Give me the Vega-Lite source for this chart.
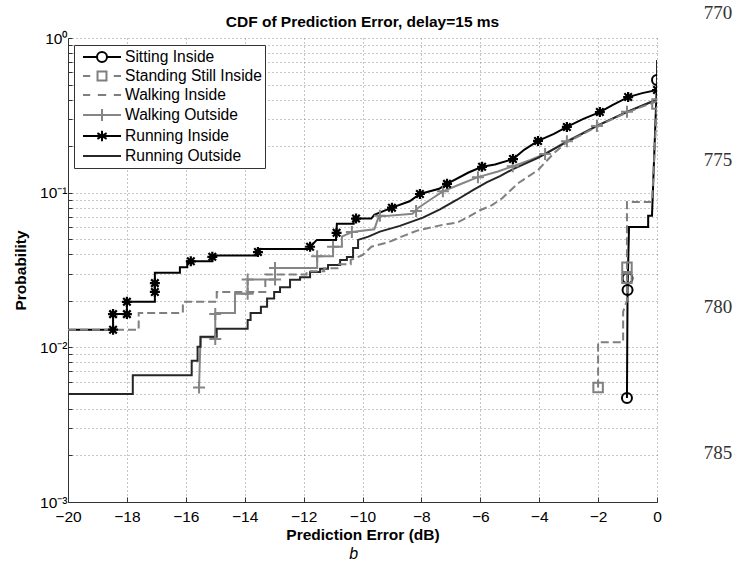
{
  "$schema": "https://vega.github.io/schema/vega-lite/v6.json",
  "width": 589,
  "height": 464,
  "autosize": "none",
  "padding": {"left": 68, "top": 38, "right": 88, "bottom": 59},
  "background": "white",
  "title": {"text": "CDF of Prediction Error, delay=15 ms", "fontSize": 15.5, "fontWeight": "bold", "font": "Liberation Sans", "color": "black", "offset": 9, "dy": 35, "anchor": "middle", "frame": "group"},
  "config": {
    "view": {"stroke": null},
    "font": "Liberation Sans",
    "axis": {"gridDash": [1, 3], "gridColor": "#8c8c8c", "gridOpacity": 1, "gridWidth": 1, "domainColor": "#333333", "tickColor": "#333333", "labelColor": "black", "labelFontSize": 15.5, "titleFontSize": 15.5, "titleFontWeight": "bold", "titleColor": "black", "labelFont": "Liberation Sans", "titleFont": "Liberation Sans", "labelOverlap": false, "labelFlush": false},
    "legend": {"orient": "none", "legendX": 6, "legendY": 7, "symbolSize": 256, "symbolStrokeWidth": 2, "symbolFillColor": "transparent",
               "labelFontSize": 15.6, "labelFont": "Liberation Sans", "labelColor": "black", "labelOffset": 30,
               "rowPadding": 1, "padding": 3, "strokeColor": "#333333", "fillColor": "white"}
  },
  "datasets": {
    "curves": [
      {"s": "Sitting Inside", "x": -1.02, "p": 0.0047},
      {"s": "Sitting Inside", "x": -1.0, "p": 0.0235},
      {"s": "Sitting Inside", "x": -0.95, "p": 0.06},
      {"s": "Sitting Inside", "x": -0.3, "p": 0.06},
      {"s": "Sitting Inside", "x": -0.3, "p": 0.071},
      {"s": "Sitting Inside", "x": -0.17, "p": 0.071},
      {"s": "Sitting Inside", "x": 0, "p": 0.535},

      {"s": "Standing Still Inside", "x": -2.0, "p": 0.0055},
      {"s": "Standing Still Inside", "x": -2.0, "p": 0.0108},
      {"s": "Standing Still Inside", "x": -1.15, "p": 0.0108},
      {"s": "Standing Still Inside", "x": -1.15, "p": 0.017},
      {"s": "Standing Still Inside", "x": -1.02, "p": 0.02},
      {"s": "Standing Still Inside", "x": -1.02, "p": 0.087},
      {"s": "Standing Still Inside", "x": -0.17, "p": 0.087},
      {"s": "Standing Still Inside", "x": 0, "p": 0.375},

      {"s": "Walking Inside", "x": -20, "p": 0.013},
      {"s": "Walking Inside", "x": -17.6, "p": 0.013},
      {"s": "Walking Inside", "x": -17.6, "p": 0.0167},
      {"s": "Walking Inside", "x": -16.1, "p": 0.0167},
      {"s": "Walking Inside", "x": -16.1, "p": 0.0197},
      {"s": "Walking Inside", "x": -14.95, "p": 0.0197},
      {"s": "Walking Inside", "x": -14.95, "p": 0.0228},
      {"s": "Walking Inside", "x": -13.3, "p": 0.0228},
      {"s": "Walking Inside", "x": -13.3, "p": 0.0296},
      {"s": "Walking Inside", "x": -11.9, "p": 0.0296},
      {"s": "Walking Inside", "x": -11.9, "p": 0.031},
      {"s": "Walking Inside", "x": -11.3, "p": 0.031},
      {"s": "Walking Inside", "x": -11.3, "p": 0.0325},
      {"s": "Walking Inside", "x": -10.8, "p": 0.0325},
      {"s": "Walking Inside", "x": -10.8, "p": 0.0345},
      {"s": "Walking Inside", "x": -10.4, "p": 0.0345},
      {"s": "Walking Inside", "x": -10.4, "p": 0.0367},
      {"s": "Walking Inside", "x": -10.0, "p": 0.0395},
      {"s": "Walking Inside", "x": -9.7, "p": 0.0447},
      {"s": "Walking Inside", "x": -9.1, "p": 0.048},
      {"s": "Walking Inside", "x": -8.56, "p": 0.053},
      {"s": "Walking Inside", "x": -8.12, "p": 0.057},
      {"s": "Walking Inside", "x": -7.27, "p": 0.062},
      {"s": "Walking Inside", "x": -6.79, "p": 0.064},
      {"s": "Walking Inside", "x": -6.45, "p": 0.069},
      {"s": "Walking Inside", "x": -6.01, "p": 0.077},
      {"s": "Walking Inside", "x": -5.6, "p": 0.083},
      {"s": "Walking Inside", "x": -5.26, "p": 0.092},
      {"s": "Walking Inside", "x": -4.72, "p": 0.115},
      {"s": "Walking Inside", "x": -4.04, "p": 0.14},
      {"s": "Walking Inside", "x": -3.5, "p": 0.18},
      {"s": "Walking Inside", "x": -3.06, "p": 0.212},
      {"s": "Walking Inside", "x": -2.5, "p": 0.24},
      {"s": "Walking Inside", "x": -2.04, "p": 0.268},
      {"s": "Walking Inside", "x": -1.5, "p": 0.3},
      {"s": "Walking Inside", "x": -1.02, "p": 0.33},
      {"s": "Walking Inside", "x": -0.5, "p": 0.36},
      {"s": "Walking Inside", "x": 0, "p": 0.39},

      {"s": "Walking Outside", "x": -15.55, "p": 0.0055},
      {"s": "Walking Outside", "x": -15.5, "p": 0.0116},
      {"s": "Walking Outside", "x": -15.0, "p": 0.0116},
      {"s": "Walking Outside", "x": -15.0, "p": 0.0167},
      {"s": "Walking Outside", "x": -14.33, "p": 0.0167},
      {"s": "Walking Outside", "x": -14.33, "p": 0.0222},
      {"s": "Walking Outside", "x": -13.9, "p": 0.0222},
      {"s": "Walking Outside", "x": -13.9, "p": 0.0275},
      {"s": "Walking Outside", "x": -12.97, "p": 0.0275},
      {"s": "Walking Outside", "x": -12.97, "p": 0.0326},
      {"s": "Walking Outside", "x": -11.54, "p": 0.0326},
      {"s": "Walking Outside", "x": -11.54, "p": 0.0388},
      {"s": "Walking Outside", "x": -11.0, "p": 0.0388},
      {"s": "Walking Outside", "x": -11.0, "p": 0.0447},
      {"s": "Walking Outside", "x": -10.7, "p": 0.0447},
      {"s": "Walking Outside", "x": -10.7, "p": 0.052},
      {"s": "Walking Outside", "x": -10.36, "p": 0.0557},
      {"s": "Walking Outside", "x": -9.6, "p": 0.058},
      {"s": "Walking Outside", "x": -9.45, "p": 0.07},
      {"s": "Walking Outside", "x": -8.3, "p": 0.073},
      {"s": "Walking Outside", "x": -8.1, "p": 0.08},
      {"s": "Walking Outside", "x": -7.7, "p": 0.09},
      {"s": "Walking Outside", "x": -7.27, "p": 0.102},
      {"s": "Walking Outside", "x": -6.6, "p": 0.115},
      {"s": "Walking Outside", "x": -6.08, "p": 0.126},
      {"s": "Walking Outside", "x": -5.4, "p": 0.137},
      {"s": "Walking Outside", "x": -4.9, "p": 0.148},
      {"s": "Walking Outside", "x": -4.3, "p": 0.163},
      {"s": "Walking Outside", "x": -3.8, "p": 0.178},
      {"s": "Walking Outside", "x": -3.06, "p": 0.215},
      {"s": "Walking Outside", "x": -2.04, "p": 0.27},
      {"s": "Walking Outside", "x": -1.02, "p": 0.333},
      {"s": "Walking Outside", "x": 0, "p": 0.4},

      {"s": "Running Inside", "x": -20, "p": 0.013},
      {"s": "Running Inside", "x": -18.47, "p": 0.013},
      {"s": "Running Inside", "x": -18.47, "p": 0.0164},
      {"s": "Running Inside", "x": -18.0, "p": 0.0164},
      {"s": "Running Inside", "x": -18.0, "p": 0.0197},
      {"s": "Running Inside", "x": -17.05, "p": 0.0197},
      {"s": "Running Inside", "x": -17.05, "p": 0.0303},
      {"s": "Running Inside", "x": -16.2, "p": 0.0303},
      {"s": "Running Inside", "x": -16.2, "p": 0.033},
      {"s": "Running Inside", "x": -15.95, "p": 0.033},
      {"s": "Running Inside", "x": -15.95, "p": 0.036},
      {"s": "Running Inside", "x": -15.1, "p": 0.036},
      {"s": "Running Inside", "x": -15.1, "p": 0.0393},
      {"s": "Running Inside", "x": -13.55, "p": 0.0393},
      {"s": "Running Inside", "x": -13.55, "p": 0.0433},
      {"s": "Running Inside", "x": -11.78, "p": 0.0433},
      {"s": "Running Inside", "x": -11.78, "p": 0.0447},
      {"s": "Running Inside", "x": -11.55, "p": 0.0495},
      {"s": "Running Inside", "x": -10.9, "p": 0.0495},
      {"s": "Running Inside", "x": -10.87, "p": 0.063},
      {"s": "Running Inside", "x": -10.3, "p": 0.063},
      {"s": "Running Inside", "x": -10.3, "p": 0.068},
      {"s": "Running Inside", "x": -9.7, "p": 0.068},
      {"s": "Running Inside", "x": -9.6, "p": 0.072},
      {"s": "Running Inside", "x": -9.0, "p": 0.08},
      {"s": "Running Inside", "x": -8.4, "p": 0.088},
      {"s": "Running Inside", "x": -8.05, "p": 0.098},
      {"s": "Running Inside", "x": -7.4, "p": 0.106},
      {"s": "Running Inside", "x": -7.13, "p": 0.114},
      {"s": "Running Inside", "x": -6.4, "p": 0.135},
      {"s": "Running Inside", "x": -5.94, "p": 0.147},
      {"s": "Running Inside", "x": -5.5, "p": 0.152},
      {"s": "Running Inside", "x": -4.89, "p": 0.165},
      {"s": "Running Inside", "x": -4.5, "p": 0.19},
      {"s": "Running Inside", "x": -4.04, "p": 0.216},
      {"s": "Running Inside", "x": -3.5, "p": 0.24},
      {"s": "Running Inside", "x": -3.06, "p": 0.266},
      {"s": "Running Inside", "x": -2.5, "p": 0.3},
      {"s": "Running Inside", "x": -1.94, "p": 0.332},
      {"s": "Running Inside", "x": -1.5, "p": 0.37},
      {"s": "Running Inside", "x": -0.98, "p": 0.415},
      {"s": "Running Inside", "x": -0.5, "p": 0.44},
      {"s": "Running Inside", "x": 0, "p": 0.461},

      {"s": "Running Outside", "x": -20, "p": 0.005},
      {"s": "Running Outside", "x": -17.8, "p": 0.005},
      {"s": "Running Outside", "x": -17.8, "p": 0.0066},
      {"s": "Running Outside", "x": -15.8, "p": 0.0066},
      {"s": "Running Outside", "x": -15.8, "p": 0.0082},
      {"s": "Running Outside", "x": -15.6, "p": 0.0082},
      {"s": "Running Outside", "x": -15.6, "p": 0.0101},
      {"s": "Running Outside", "x": -15.5, "p": 0.0101},
      {"s": "Running Outside", "x": -15.5, "p": 0.0117},
      {"s": "Running Outside", "x": -14.95, "p": 0.0117},
      {"s": "Running Outside", "x": -14.95, "p": 0.0132},
      {"s": "Running Outside", "x": -13.9, "p": 0.0132},
      {"s": "Running Outside", "x": -13.9, "p": 0.015},
      {"s": "Running Outside", "x": -13.8, "p": 0.015},
      {"s": "Running Outside", "x": -13.8, "p": 0.0167},
      {"s": "Running Outside", "x": -13.45, "p": 0.0167},
      {"s": "Running Outside", "x": -13.45, "p": 0.0183},
      {"s": "Running Outside", "x": -13.24, "p": 0.0183},
      {"s": "Running Outside", "x": -13.24, "p": 0.0207},
      {"s": "Running Outside", "x": -13.0, "p": 0.0207},
      {"s": "Running Outside", "x": -13.0, "p": 0.0228},
      {"s": "Running Outside", "x": -12.8, "p": 0.0228},
      {"s": "Running Outside", "x": -12.8, "p": 0.0245},
      {"s": "Running Outside", "x": -12.46, "p": 0.0245},
      {"s": "Running Outside", "x": -12.46, "p": 0.0273},
      {"s": "Running Outside", "x": -12.12, "p": 0.0273},
      {"s": "Running Outside", "x": -12.12, "p": 0.0284},
      {"s": "Running Outside", "x": -11.78, "p": 0.0284},
      {"s": "Running Outside", "x": -11.78, "p": 0.0307},
      {"s": "Running Outside", "x": -11.44, "p": 0.0307},
      {"s": "Running Outside", "x": -11.44, "p": 0.0322},
      {"s": "Running Outside", "x": -11.17, "p": 0.0322},
      {"s": "Running Outside", "x": -11.17, "p": 0.0341},
      {"s": "Running Outside", "x": -10.76, "p": 0.0341},
      {"s": "Running Outside", "x": -10.76, "p": 0.0367},
      {"s": "Running Outside", "x": -10.53, "p": 0.0367},
      {"s": "Running Outside", "x": -10.53, "p": 0.0384},
      {"s": "Running Outside", "x": -10.32, "p": 0.0384},
      {"s": "Running Outside", "x": -10.32, "p": 0.0439},
      {"s": "Running Outside", "x": -10.15, "p": 0.0439},
      {"s": "Running Outside", "x": -10.15, "p": 0.0495},
      {"s": "Running Outside", "x": -9.8, "p": 0.052},
      {"s": "Running Outside", "x": -9.41, "p": 0.056},
      {"s": "Running Outside", "x": -8.73, "p": 0.061},
      {"s": "Running Outside", "x": -7.95, "p": 0.069},
      {"s": "Running Outside", "x": -7.37, "p": 0.078},
      {"s": "Running Outside", "x": -6.79, "p": 0.09},
      {"s": "Running Outside", "x": -6.25, "p": 0.104},
      {"s": "Running Outside", "x": -5.77, "p": 0.117},
      {"s": "Running Outside", "x": -5.33, "p": 0.128},
      {"s": "Running Outside", "x": -4.89, "p": 0.142},
      {"s": "Running Outside", "x": -4.04, "p": 0.168},
      {"s": "Running Outside", "x": -3.06, "p": 0.213},
      {"s": "Running Outside", "x": -2.04, "p": 0.27},
      {"s": "Running Outside", "x": -1.02, "p": 0.333},
      {"s": "Running Outside", "x": 0, "p": 0.4},
      {"s": "Running Outside", "x": 0, "p": 0.72}
    ],
    "markers": [
      {"s": "Sitting Inside", "x": -1.02, "p": 0.0047},
      {"s": "Sitting Inside", "x": -1.0, "p": 0.0235},
      {"s": "Sitting Inside", "x": -1.0, "p": 0.028},
      {"s": "Sitting Inside", "x": 0, "p": 0.535},
      {"s": "Standing Still Inside", "x": -2.0, "p": 0.0055},
      {"s": "Standing Still Inside", "x": -1.02, "p": 0.028},
      {"s": "Standing Still Inside", "x": -1.02, "p": 0.033},
      {"s": "Standing Still Inside", "x": 0, "p": 0.375},
      {"s": "Walking Outside", "x": -15.55, "p": 0.0055},
      {"s": "Walking Outside", "x": -15.0, "p": 0.0113},
      {"s": "Walking Outside", "x": -15.0, "p": 0.0164},
      {"s": "Walking Outside", "x": -13.9, "p": 0.0222},
      {"s": "Walking Outside", "x": -13.9, "p": 0.0275},
      {"s": "Walking Outside", "x": -12.97, "p": 0.0275},
      {"s": "Walking Outside", "x": -12.97, "p": 0.0326},
      {"s": "Walking Outside", "x": -11.54, "p": 0.0388},
      {"s": "Walking Outside", "x": -11.0, "p": 0.0447},
      {"s": "Walking Outside", "x": -10.36, "p": 0.0557},
      {"s": "Walking Outside", "x": -9.41, "p": 0.071},
      {"s": "Walking Outside", "x": -8.18, "p": 0.076},
      {"s": "Walking Outside", "x": -7.27, "p": 0.102},
      {"s": "Walking Outside", "x": -6.08, "p": 0.126},
      {"s": "Walking Outside", "x": -4.9, "p": 0.148},
      {"s": "Walking Outside", "x": -3.8, "p": 0.178},
      {"s": "Walking Outside", "x": -3.06, "p": 0.215},
      {"s": "Walking Outside", "x": -2.04, "p": 0.27},
      {"s": "Walking Outside", "x": -1.02, "p": 0.333},
      {"s": "Running Inside", "x": -18.47, "p": 0.013},
      {"s": "Running Inside", "x": -18.47, "p": 0.0164},
      {"s": "Running Inside", "x": -18.0, "p": 0.0164},
      {"s": "Running Inside", "x": -18.0, "p": 0.0197},
      {"s": "Running Inside", "x": -17.05, "p": 0.0228},
      {"s": "Running Inside", "x": -17.05, "p": 0.026},
      {"s": "Running Inside", "x": -15.83, "p": 0.036},
      {"s": "Running Inside", "x": -15.1, "p": 0.0385},
      {"s": "Running Inside", "x": -13.55, "p": 0.0413},
      {"s": "Running Inside", "x": -11.78, "p": 0.0447},
      {"s": "Running Inside", "x": -10.88, "p": 0.055},
      {"s": "Running Inside", "x": -10.22, "p": 0.068},
      {"s": "Running Inside", "x": -9.0, "p": 0.08},
      {"s": "Running Inside", "x": -8.05, "p": 0.098},
      {"s": "Running Inside", "x": -7.13, "p": 0.114},
      {"s": "Running Inside", "x": -5.94, "p": 0.147},
      {"s": "Running Inside", "x": -4.89, "p": 0.165},
      {"s": "Running Inside", "x": -4.04, "p": 0.216},
      {"s": "Running Inside", "x": -3.06, "p": 0.266},
      {"s": "Running Inside", "x": -1.94, "p": 0.332},
      {"s": "Running Inside", "x": -0.98, "p": 0.415},
      {"s": "Running Inside", "x": 0, "p": 0.461}
    ],
    "notes": [
      {"t": "770", "x": 2.07, "p": 1.45},
      {"t": "775", "x": 2.07, "p": 0.163},
      {"t": "780", "x": 2.07, "p": 0.0182},
      {"t": "785", "x": 2.07, "p": 0.00208}
    ],
    "caption": [
      {"t": "b", "x": -10.3, "p": 0.000462}
    ]
  },
  "layer": [
    {
      "data": {"name": "curves"},
      "encoding": {
        "x": {"field": "x", "type": "quantitative", "scale": {"domain": [-20, 0], "nice": false},
              "axis": {"values": [-20, -18, -16, -14, -12, -10, -8, -6, -4, -2, 0], "format": "d", "title": "Prediction Error (dB)", "grid": true, "tickSize": -5, "labelPadding": 12, "titlePadding": 3}},
        "y": {"field": "p", "type": "quantitative", "scale": {"type": "log", "domain": [0.001, 1], "nice": false},
              "axis": {"values": [0.001, 0.002, 0.003, 0.004, 0.005, 0.006, 0.007, 0.008, 0.009, 0.01, 0.02, 0.03, 0.04, 0.05, 0.06, 0.07, 0.08, 0.09, 0.1, 0.2, 0.3, 0.4, 0.5, 0.6, 0.7, 0.8, 0.9, 1],
                       "labelExpr": "datum.value == 1 ? '10⁰' : datum.value == 0.1 ? '10⁻¹' : datum.value == 0.01 ? '10⁻²' : datum.value == 0.001 ? '10⁻³' : ''",
                       "title": "Probability", "grid": true, "tickSize": -4, "labelPadding": 5, "titlePadding": 11}},
        "color": {"field": "s", "type": "nominal", "title": null,
                  "scale": {"domain": ["Sitting Inside", "Standing Still Inside", "Walking Inside", "Walking Outside", "Running Inside", "Running Outside"],
                            "range": ["#000000", "#7f7f7f", "#7f7f7f", "#858585", "#000000", "#262626"]}},
        "order": [{"field": "x", "type": "quantitative"}, {"field": "p", "type": "quantitative"}]
      },
      "layer": [
        {"transform": [{"filter": "datum.s != 'Standing Still Inside' && datum.s != 'Walking Inside'"}],
         "mark": {"type": "line", "strokeWidth": 2, "clip": true}},
        {"transform": [{"filter": "datum.s == 'Standing Still Inside' || datum.s == 'Walking Inside'"}],
         "mark": {"type": "line", "strokeWidth": 2, "strokeDash": [8, 4], "clip": true}}
      ]
    },
    {
      "data": {"name": "markers"},
      "encoding": {
        "x": {"field": "x", "type": "quantitative"},
        "y": {"field": "p", "type": "quantitative"},
        "color": {"field": "s", "type": "nominal", "title": null}
      },
      "layer": [
        {"transform": [{"filter": "datum.s == 'Sitting Inside'"}],
         "mark": {"type": "point", "shape": "circle", "filled": false, "size": 100, "strokeWidth": 2, "opacity": 1, "clip": true}},
        {"transform": [{"filter": "datum.s == 'Standing Still Inside'"}],
         "mark": {"type": "point", "shape": "square", "filled": false, "size": 90, "strokeWidth": 2, "opacity": 1, "clip": true}},
        {"transform": [{"filter": "datum.s == 'Walking Outside'"}],
         "mark": {"type": "point", "shape": "M-1.2,0H1.2M0,-1.2V1.2", "filled": false, "size": 100, "strokeWidth": 2, "opacity": 1, "clip": true}},
        {"transform": [{"filter": "datum.s == 'Running Inside'"}],
         "mark": {"type": "point", "shape": "M-1,0H1M0,-1V1M-0.75,-0.75L0.75,0.75M-0.75,0.75L0.75,-0.75", "filled": false, "size": 100, "strokeWidth": 2.2, "opacity": 1, "clip": true}}
      ]
    },
    {
      "data": {"values": []},
      "mark": {"type": "point", "filled": false, "opacity": 1, "strokeWidth": 2, "clip": true},
      "encoding": {
        "x": {"field": "x", "type": "quantitative"},
        "y": {"field": "p", "type": "quantitative"},
        "color": {"field": "s", "type": "nominal", "title": null},
        "shape": {"field": "s", "type": "nominal", "title": null,
                  "scale": {"domain": ["Sitting Inside", "Standing Still Inside", "Walking Inside", "Walking Outside", "Running Inside", "Running Outside"],
                            "range": [
                              "M-0.375,0H1.375M2.625,0H4.375M1.375,0A0.625,0.625,0,1,1,2.625,0A0.625,0.625,0,1,1,1.375,0",
                              "M-0.375,0H0.525M3.475,0H4.375M1.44,-0.56H2.56V0.56H1.44Z",
                              "M-0.375,0H0.525M1.475,0H2.525M3.475,0H4.375",
                              "M-0.375,0H4.375M2,-0.75V0.75",
                              "M-0.375,0H4.375M2,-0.65V0.65M1.425,-0.35L2.575,0.35M1.425,0.35L2.575,-0.35",
                              "M-0.375,0H4.375"
                            ]}}
      }
    },
    {
      "data": {"name": "notes"},
      "mark": {"type": "text", "font": "Liberation Serif", "fontSize": 19, "color": "#333333", "align": "center", "baseline": "middle"},
      "encoding": {
        "x": {"field": "x", "type": "quantitative"},
        "y": {"field": "p", "type": "quantitative"},
        "text": {"field": "t", "type": "nominal"}
      }
    },
    {
      "data": {"name": "caption"},
      "mark": {"type": "text", "font": "Liberation Sans", "fontSize": 16, "fontStyle": "italic", "color": "black", "align": "center", "baseline": "middle"},
      "encoding": {
        "x": {"field": "x", "type": "quantitative"},
        "y": {"field": "p", "type": "quantitative"},
        "text": {"field": "t", "type": "nominal"}
      }
    }
  ]
}
